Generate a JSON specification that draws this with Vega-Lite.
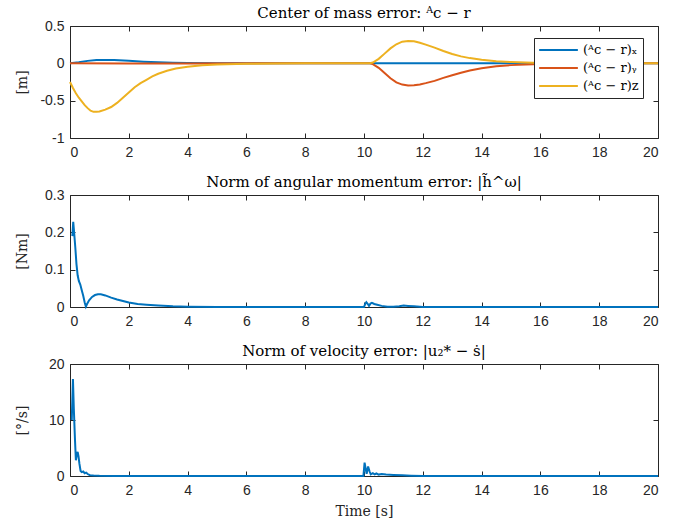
{
  "$schema": "https://vega.github.io/schema/vega-lite/v6.json",
  "background": "white",
  "padding": {"left": 14, "top": 5, "right": 5, "bottom": 5},
  "spacing": 14,
  "config": {
    "font": "Liberation Sans",
    "view": {"stroke": "#262626", "strokeWidth": 1},
    "axis": {
      "grid": false, "domain": false,
      "tickColor": "#262626", "tickSize": -5, "tickWidth": 1,
      "labelFont": "Liberation Sans", "labelFontSize": 14, "labelColor": "#262626",
      "labelPadding": 12,
      "titleFont": "DejaVu Serif", "titleFontSize": 14, "titleFontWeight": "normal", "titleColor": "#262626"
    },
    "title": {"font": "DejaVu Serif", "fontSize": 15, "fontWeight": "normal", "color": "#000000", "offset": -2, "frame": "group", "anchor": "middle"},
    "legend": {"labelFont": "DejaVu Serif", "labelFontSize": 13, "labelColor": "#000000"},
    "line": {"strokeWidth": 2, "clip": true}
  },
  "datasets": {
    "com": [
      {"t": 0, "c": "x", "v": 0}, {"t": 0.3, "c": "x", "v": 0.015}, {"t": 0.6, "c": "x", "v": 0.033}, {"t": 0.9, "c": "x", "v": 0.043},
      {"t": 1.2, "c": "x", "v": 0.046}, {"t": 1.5, "c": "x", "v": 0.043}, {"t": 2.0, "c": "x", "v": 0.033}, {"t": 2.5, "c": "x", "v": 0.022},
      {"t": 3.0, "c": "x", "v": 0.013}, {"t": 3.5, "c": "x", "v": 0.008}, {"t": 4.0, "c": "x", "v": 0.005}, {"t": 5.0, "c": "x", "v": 0.002},
      {"t": 6.0, "c": "x", "v": 0.0005}, {"t": 8.0, "c": "x", "v": 0}, {"t": 10.0, "c": "x", "v": 0}, {"t": 12.0, "c": "x", "v": 0},
      {"t": 14.0, "c": "x", "v": 0}, {"t": 16.0, "c": "x", "v": 0}, {"t": 18.0, "c": "x", "v": 0}, {"t": 20.0, "c": "x", "v": 0},

      {"t": 0, "c": "y", "v": 0}, {"t": 2, "c": "y", "v": -0.002}, {"t": 4, "c": "y", "v": -0.001}, {"t": 8, "c": "y", "v": 0},
      {"t": 10.2, "c": "y", "v": 0}, {"t": 10.3, "c": "y", "v": -0.01}, {"t": 10.5, "c": "y", "v": -0.06}, {"t": 10.7, "c": "y", "v": -0.13},
      {"t": 10.9, "c": "y", "v": -0.2}, {"t": 11.1, "c": "y", "v": -0.255}, {"t": 11.3, "c": "y", "v": -0.285}, {"t": 11.5, "c": "y", "v": -0.297},
      {"t": 11.7, "c": "y", "v": -0.295}, {"t": 11.9, "c": "y", "v": -0.283}, {"t": 12.1, "c": "y", "v": -0.265}, {"t": 12.4, "c": "y", "v": -0.235},
      {"t": 12.7, "c": "y", "v": -0.195}, {"t": 13.0, "c": "y", "v": -0.16}, {"t": 13.3, "c": "y", "v": -0.125}, {"t": 13.6, "c": "y", "v": -0.095},
      {"t": 14.0, "c": "y", "v": -0.065}, {"t": 14.5, "c": "y", "v": -0.04}, {"t": 15.0, "c": "y", "v": -0.024}, {"t": 15.5, "c": "y", "v": -0.014},
      {"t": 16.0, "c": "y", "v": -0.008}, {"t": 17.0, "c": "y", "v": -0.003}, {"t": 18.0, "c": "y", "v": 0}, {"t": 20.0, "c": "y", "v": 0},

      {"t": 0, "c": "z", "v": -0.25}, {"t": 0.1, "c": "z", "v": -0.33}, {"t": 0.2, "c": "z", "v": -0.4}, {"t": 0.3, "c": "z", "v": -0.46},
      {"t": 0.4, "c": "z", "v": -0.51}, {"t": 0.5, "c": "z", "v": -0.56}, {"t": 0.6, "c": "z", "v": -0.6}, {"t": 0.7, "c": "z", "v": -0.635},
      {"t": 0.8, "c": "z", "v": -0.65}, {"t": 0.9, "c": "z", "v": -0.65}, {"t": 1.0, "c": "z", "v": -0.645}, {"t": 1.2, "c": "z", "v": -0.62},
      {"t": 1.4, "c": "z", "v": -0.585}, {"t": 1.6, "c": "z", "v": -0.53}, {"t": 1.8, "c": "z", "v": -0.46}, {"t": 2.0, "c": "z", "v": -0.39},
      {"t": 2.2, "c": "z", "v": -0.32}, {"t": 2.4, "c": "z", "v": -0.265}, {"t": 2.6, "c": "z", "v": -0.22}, {"t": 2.8, "c": "z", "v": -0.175},
      {"t": 3.0, "c": "z", "v": -0.14}, {"t": 3.3, "c": "z", "v": -0.1}, {"t": 3.6, "c": "z", "v": -0.07}, {"t": 4.0, "c": "z", "v": -0.045},
      {"t": 4.5, "c": "z", "v": -0.025}, {"t": 5.0, "c": "z", "v": -0.014}, {"t": 6.0, "c": "z", "v": -0.006}, {"t": 7.0, "c": "z", "v": -0.002},
      {"t": 8.0, "c": "z", "v": 0}, {"t": 10.2, "c": "z", "v": 0}, {"t": 10.3, "c": "z", "v": 0.01}, {"t": 10.5, "c": "z", "v": 0.06},
      {"t": 10.7, "c": "z", "v": 0.13}, {"t": 10.9, "c": "z", "v": 0.2}, {"t": 11.1, "c": "z", "v": 0.255}, {"t": 11.3, "c": "z", "v": 0.29},
      {"t": 11.5, "c": "z", "v": 0.3}, {"t": 11.7, "c": "z", "v": 0.295}, {"t": 11.9, "c": "z", "v": 0.275}, {"t": 12.1, "c": "z", "v": 0.25},
      {"t": 12.4, "c": "z", "v": 0.21}, {"t": 12.7, "c": "z", "v": 0.165}, {"t": 13.0, "c": "z", "v": 0.125}, {"t": 13.3, "c": "z", "v": 0.093},
      {"t": 13.6, "c": "z", "v": 0.07}, {"t": 14.0, "c": "z", "v": 0.047}, {"t": 14.5, "c": "z", "v": 0.028}, {"t": 15.0, "c": "z", "v": 0.017},
      {"t": 15.5, "c": "z", "v": 0.01}, {"t": 16.0, "c": "z", "v": 0.005}, {"t": 17.0, "c": "z", "v": 0.001}, {"t": 18.0, "c": "z", "v": 0},
      {"t": 20.0, "c": "z", "v": 0}
    ],
    "h": [
      {"t": 0.08, "v": 0.19}, {"t": 0.11, "v": 0.228}, {"t": 0.14, "v": 0.2}, {"t": 0.18, "v": 0.16}, {"t": 0.22, "v": 0.115},
      {"t": 0.26, "v": 0.085}, {"t": 0.3, "v": 0.07}, {"t": 0.35, "v": 0.06}, {"t": 0.4, "v": 0.045}, {"t": 0.45, "v": 0.03},
      {"t": 0.5, "v": 0.012}, {"t": 0.54, "v": 0.001}, {"t": 0.58, "v": 0.008}, {"t": 0.65, "v": 0.018}, {"t": 0.75, "v": 0.027},
      {"t": 0.85, "v": 0.032}, {"t": 0.95, "v": 0.034}, {"t": 1.05, "v": 0.034}, {"t": 1.2, "v": 0.031}, {"t": 1.4, "v": 0.025},
      {"t": 1.6, "v": 0.02}, {"t": 1.8, "v": 0.016}, {"t": 2.0, "v": 0.012}, {"t": 2.3, "v": 0.008}, {"t": 2.6, "v": 0.006},
      {"t": 3.0, "v": 0.004}, {"t": 3.5, "v": 0.002}, {"t": 4.0, "v": 0.001}, {"t": 5.0, "v": 0.0003}, {"t": 6.0, "v": 0},
      {"t": 10.0, "v": 0}, {"t": 10.04, "v": 0.008}, {"t": 10.08, "v": 0.013}, {"t": 10.13, "v": 0.008}, {"t": 10.17, "v": 0.003},
      {"t": 10.22, "v": 0.009}, {"t": 10.27, "v": 0.011}, {"t": 10.35, "v": 0.008}, {"t": 10.45, "v": 0.006}, {"t": 10.6, "v": 0.003},
      {"t": 10.8, "v": 0.001}, {"t": 11.0, "v": 0.0005}, {"t": 11.2, "v": 0.002}, {"t": 11.35, "v": 0.004}, {"t": 11.5, "v": 0.003},
      {"t": 11.7, "v": 0.002}, {"t": 12.0, "v": 0}, {"t": 20.0, "v": 0}
    ],
    "s": [
      {"t": 0.06, "v": 10}, {"t": 0.1, "v": 17.3}, {"t": 0.13, "v": 12}, {"t": 0.17, "v": 6.4}, {"t": 0.2, "v": 2.8},
      {"t": 0.23, "v": 3.8}, {"t": 0.26, "v": 4.3}, {"t": 0.29, "v": 3.5}, {"t": 0.32, "v": 2.2}, {"t": 0.36, "v": 0.9},
      {"t": 0.4, "v": 0.7}, {"t": 0.45, "v": 0.8}, {"t": 0.5, "v": 0.5}, {"t": 0.55, "v": 0.6}, {"t": 0.6, "v": 0.35},
      {"t": 0.68, "v": 0.15}, {"t": 0.8, "v": 0.08}, {"t": 1.0, "v": 0.03}, {"t": 1.5, "v": 0.01}, {"t": 2.0, "v": 0},
      {"t": 9.98, "v": 0}, {"t": 10.02, "v": 2.4}, {"t": 10.06, "v": 1.2}, {"t": 10.09, "v": 0.4}, {"t": 10.14, "v": 1.7},
      {"t": 10.19, "v": 0.8}, {"t": 10.23, "v": 0.3}, {"t": 10.3, "v": 0.5}, {"t": 10.36, "v": 0.3}, {"t": 10.42, "v": 0.45},
      {"t": 10.5, "v": 0.25}, {"t": 10.6, "v": 0.35}, {"t": 10.75, "v": 0.25}, {"t": 11.0, "v": 0.2}, {"t": 11.3, "v": 0.12},
      {"t": 11.6, "v": 0.05}, {"t": 12.0, "v": 0}, {"t": 20.0, "v": 0}
    ]
  },
  "vconcat": [
    {
      "width": 588, "height": 112,
      "title": "Center of mass error: ᴬc − r",
      "data": {"name": "com"},
      "layer": [
        {
          "mark": {"type": "line"},
          "encoding": {
            "x": {"field": "t", "type": "quantitative", "scale": {"domain": [0, 20], "nice": false, "zero": false},
                  "axis": {"orient": "bottom", "values": [0,2,4,6,8,10,12,14,16,18,20], "title": null, "labelExpr": "'' + datum.value"}},
            "y": {"field": "v", "type": "quantitative", "scale": {"domain": [-1, 0.5], "nice": false},
                  "axis": {"orient": "left", "values": [-1,-0.5,0,0.5], "title": "[m]", "labelExpr": "'' + datum.value", "titleX": -41, "titleBaseline": "bottom", "labelPadding": 11}},
            "color": {"field": "c", "type": "nominal",
                      "scale": {"domain": ["x","y","z"], "range": ["#0072BD","#D95319","#EDB120"]},
                      "legend": {"orient": "none", "legendX": 464, "legendY": 12, "title": null,
                                 "labelExpr": "datum.value == 'x' ? '(ᴬc − r)ₓ' : datum.value == 'y' ? '(ᴬc − r)ᵧ' : '(ᴬc − r)z'",
                                 "symbolType": "stroke", "symbolSize": 1500, "symbolStrokeWidth": 2,
                                 "clipHeight": 16, "rowPadding": 2, "labelOffset": 4,
                                 "strokeColor": "#262626", "fillColor": "white", "padding": 4}}
          }
        },
        {
          "mark": {"type": "line", "strokeOpacity": 0},
          "encoding": {
            "x": {"field": "t", "type": "quantitative", "axis": {"orient": "top", "values": [0,2,4,6,8,10,12,14,16,18,20], "labels": false, "title": null}},
            "y": {"field": "v", "type": "quantitative", "axis": {"orient": "right", "values": [-1,-0.5,0,0.5], "labels": false, "title": null}}
          }
        }
      ]
    },
    {
      "width": 588, "height": 112,
      "title": "Norm of angular momentum error: |h̃^ω|",
      "data": {"name": "h"},
      "layer": [
        {
          "mark": {"type": "line", "color": "#0072BD"},
          "encoding": {
            "x": {"field": "t", "type": "quantitative", "scale": {"domain": [0, 20], "nice": false, "zero": false},
                  "axis": {"orient": "bottom", "values": [0,2,4,6,8,10,12,14,16,18,20], "title": null, "labelExpr": "'' + datum.value"}},
            "y": {"field": "v", "type": "quantitative", "scale": {"domain": [0, 0.3], "nice": false},
                  "axis": {"orient": "left", "values": [0,0.1,0.2,0.3], "title": "[Nm]", "labelExpr": "'' + datum.value", "titleX": -41, "titleBaseline": "bottom", "labelPadding": 11}}
          }
        },
        {
          "mark": {"type": "line", "strokeOpacity": 0},
          "encoding": {
            "x": {"field": "t", "type": "quantitative", "axis": {"orient": "top", "values": [0,2,4,6,8,10,12,14,16,18,20], "labels": false, "title": null}},
            "y": {"field": "v", "type": "quantitative", "axis": {"orient": "right", "values": [0,0.1,0.2,0.3], "labels": false, "title": null}}
          }
        }
      ]
    },
    {
      "width": 588, "height": 112,
      "title": "Norm of velocity error: |u₂* − ṡ|",
      "data": {"name": "s"},
      "layer": [
        {
          "mark": {"type": "line", "color": "#0072BD"},
          "encoding": {
            "x": {"field": "t", "type": "quantitative", "scale": {"domain": [0, 20], "nice": false, "zero": false},
                  "axis": {"orient": "bottom", "values": [0,2,4,6,8,10,12,14,16,18,20], "title": "Time [s]", "titlePadding": 7, "labelExpr": "'' + datum.value"}},
            "y": {"field": "v", "type": "quantitative", "scale": {"domain": [0, 20], "nice": false},
                  "axis": {"orient": "left", "values": [0,10,20], "title": "[°/s]", "labelExpr": "'' + datum.value", "titleX": -41, "titleBaseline": "bottom", "labelPadding": 11}}
          }
        },
        {
          "mark": {"type": "line", "strokeOpacity": 0},
          "encoding": {
            "x": {"field": "t", "type": "quantitative", "axis": {"orient": "top", "values": [0,2,4,6,8,10,12,14,16,18,20], "labels": false, "title": null}},
            "y": {"field": "v", "type": "quantitative", "axis": {"orient": "right", "values": [0,10,20], "labels": false, "title": null}}
          }
        }
      ]
    }
  ]
}
